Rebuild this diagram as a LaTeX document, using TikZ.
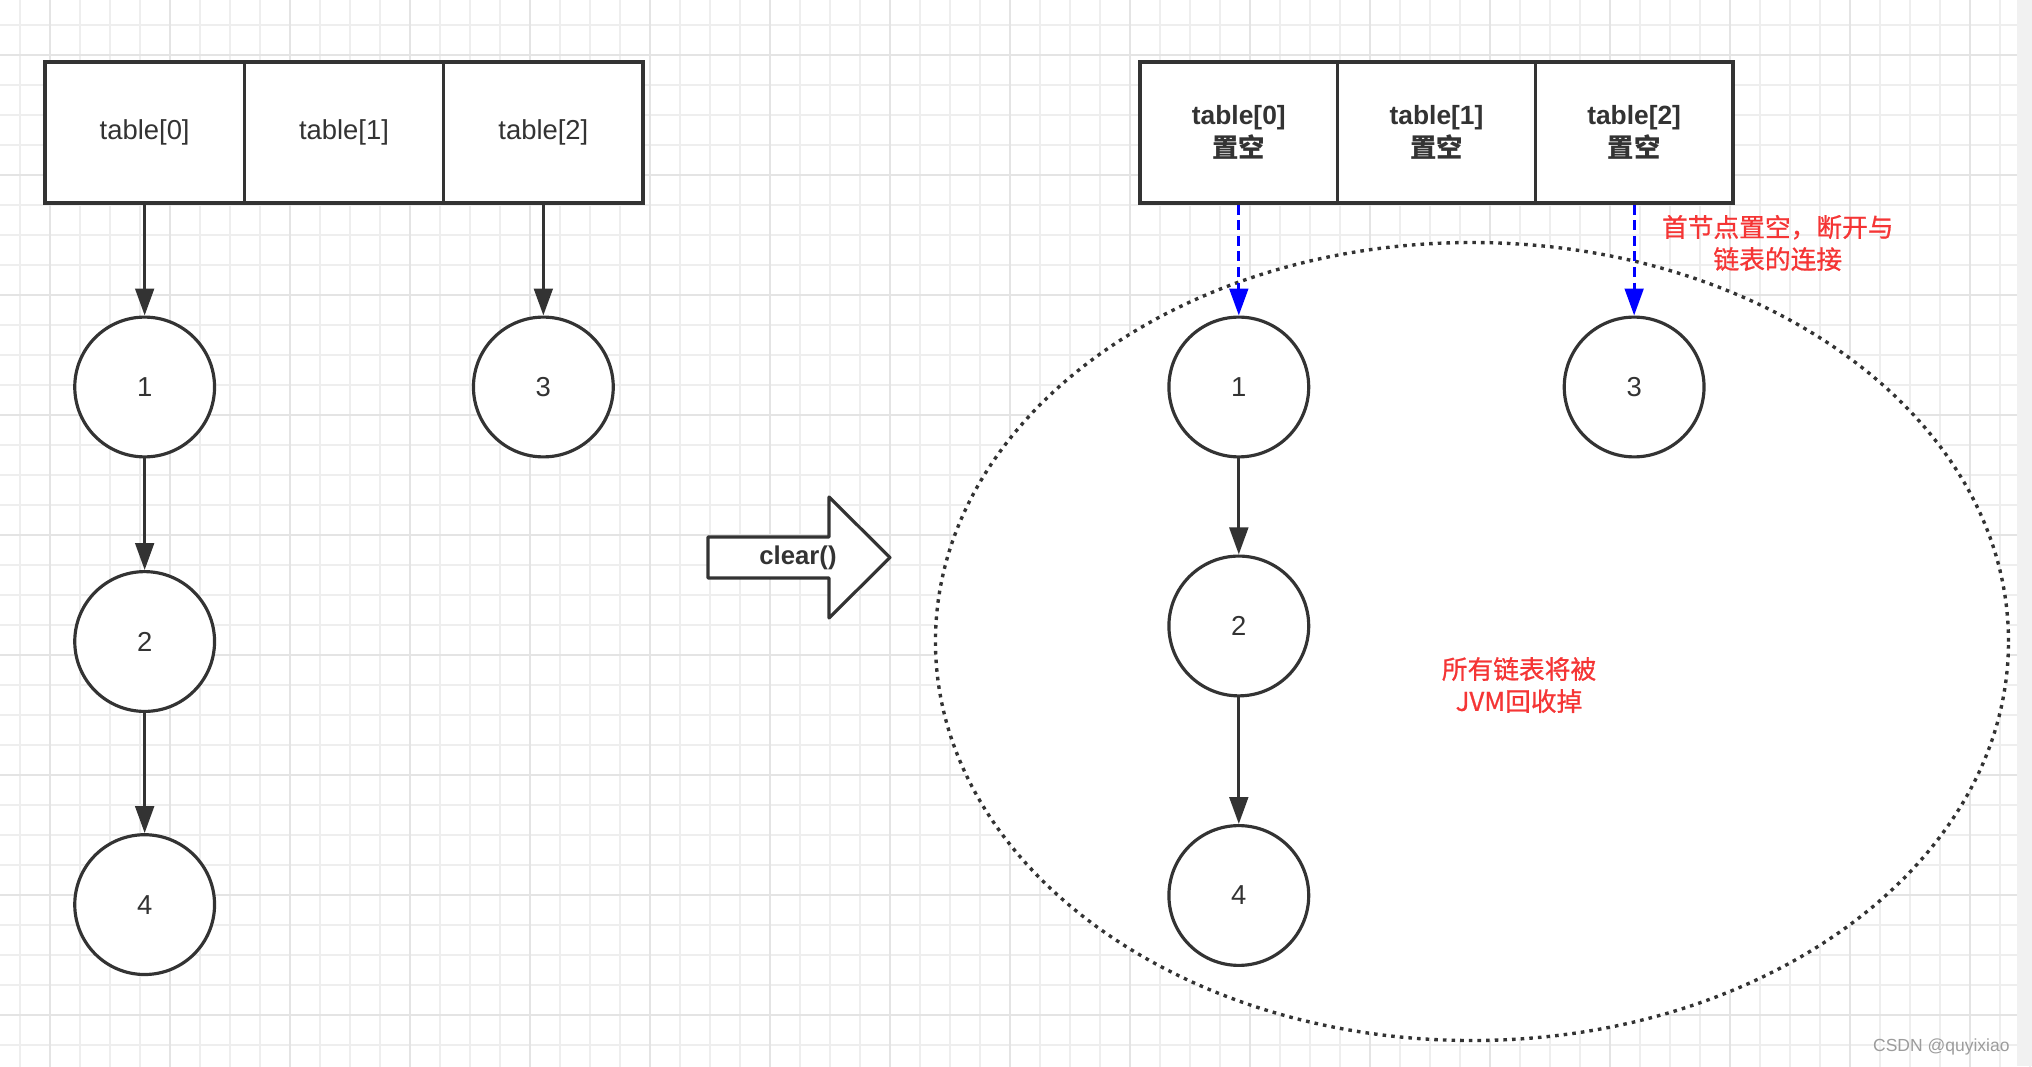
\documentclass[tikz,border=0pt]{standalone}
\usepackage{fontspec}
\setmainfont{Liberation Sans}
\newfontfamily\cjk{Noto Sans CJK SC}
\newfontfamily\cjknote{Noto Sans CJK SC}[FakeBold=0.8]
\usepackage{tikz}
\usetikzlibrary{arrows.meta}
\definecolor{ink}{HTML}{333333}
\definecolor{gridminor}{HTML}{EEEEEE}
\definecolor{gridmajor}{HTML}{E4E4E4}
\definecolor{barfill}{HTML}{F1F1F1}
\definecolor{notered}{HTML}{F53535}
\definecolor{wmgray}{HTML}{9C9C9C}

\begin{document}
\begin{tikzpicture}[
  cell/.style={draw=ink,fill=white,line width=1.5pt,minimum width=3.32cm,minimum height=2.35cm,inner sep=0pt,text=ink,font=\fontsize{13}{15.6}\selectfont},
  boldcell/.style={cell,minimum width=3.294cm,font=\fontsize{12.5}{16}\selectfont\bfseries},
  knot/.style={circle,draw=ink,fill=white,line width=1.5pt,minimum size=2.33cm,inner sep=0pt,text=ink,font=\fontsize{13}{15.6}\selectfont},
  link/.style={draw=ink,line width=1.5pt,-{Triangle[length=0.45cm,width=0.31cm]}},
  cut/.style={draw=blue,line width=1.5pt,dash pattern=on 4.8pt off 2.6pt,-{Triangle[length=0.45cm,width=0.31cm]}},
  note/.style={text=notered,align=center,font=\fontsize{12.2}{15.2}\selectfont\cjknote}
]
%%%%%%%%%%%%%%%%%%Draw Background and Grids%%%%%%%%%%%%%%%
\useasboundingbox (0,0) rectangle (33.867,-17.767);
\fill[white] (0,0) rectangle (33.867,-17.767);
\begin{scope}
\clip (0,0) rectangle (33.867,-17.767);
\begin{scope}[shift={(0.3333,-0.4167)}]
\draw[step=0.5cm,gridminor,line width=0.6pt] (-0.5,-18) grid (34,0.5);
\end{scope}
\begin{scope}[shift={(0.8333,-0.9167)}]
\draw[step=2cm,gridmajor,line width=0.9pt] (-2,-18) grid (34,2);
\end{scope}
\end{scope}
\fill[barfill] (33.617,0) rectangle (33.867,-17.767);

%%%%%%%%%%%%%%Draw Left Table and Its Lists%%%%%%%%%%%%%%
\node[cell] (lt0) at (2.411,-2.208) {table[0]};
\node[cell] (lt1) at (5.733,-2.208) {table[1]};
\node[cell] (lt2) at (9.056,-2.208) {table[2]};

\node[knot] (l1) at (2.411,-6.45) {1};
\node[knot] (l2) at (2.411,-10.692) {2};
\node[knot] (l4) at (2.411,-15.077) {4};
\node[knot] (l3) at (9.056,-6.45) {3};

\draw[link] (lt0.south) -- (l1.north);
\draw[link] (l1.south) -- (l2.north);
\draw[link] (l2.south) -- (l4.north);
\draw[link] (lt2.south) -- (l3.north);

%%%%%%%%%%%%%%%%%%%Draw The clear() Arrow%%%%%%%%%%%%%%%%%
\draw[ink,fill=white,line width=1.5pt,line join=round] (11.8,-8.95) -- (13.817,-8.95) -- (13.817,-8.283) -- (14.833,-9.292) -- (13.817,-10.3) -- (13.817,-9.633) -- (11.8,-9.633) -- cycle;
\node[text=ink,font=\fontsize{12.2}{14}\selectfont\bfseries] (clr) at (13.3,-9.292) {clear()};

%%%%%%%%%%%%%%%%Draw The Collected Region%%%%%%%%%%%%%%%%
\draw[ink,fill=white,line width=1.6pt,dash pattern=on 1.7pt off 2.4pt] (24.533,-10.692) ellipse [x radius=8.942cm,y radius=6.65cm];

%%%%%%%%%%%%%%Draw Right Table and Its Lists%%%%%%%%%%%%%
\node[boldcell,align=center] (rt0) at (20.647,-2.208) {table[0]\\{\cjk 置空}};
\node[boldcell,align=center] (rt1) at (23.942,-2.208) {table[1]\\{\cjk 置空}};
\node[boldcell,align=center] (rt2) at (27.236,-2.208) {table[2]\\{\cjk 置空}};

\node[knot] (r1) at (20.647,-6.45) {1};
\node[knot] (r2) at (20.647,-10.433) {2};
\node[knot] (r4) at (20.647,-14.925) {4};
\node[knot] (r3) at (27.236,-6.45) {3};

\draw[cut] (rt0.south) -- (r1.north);
\draw[cut] (rt2.south) -- (r3.north);
\draw[link] (r1.south) -- (r2.north);
\draw[link] (r2.south) -- (r4.north);

%%%%%%%%%%%%%%%%%%%%%Draw The Red Notes%%%%%%%%%%%%%%%%%%%
\node[note] (headnote) at (29.63,-4.05) {首节点置空，断开与\\链表的连接};
\node[note] (gcnote) at (25.317,-11.417) {所有链表将被\\JVM回收掉};

\node[anchor=east,text=wmgray,font=\fontsize{8.3}{9}\selectfont] (wm) at (33.617,-17.45) {CSDN @quyixiao};
\end{tikzpicture}
\end{document}
